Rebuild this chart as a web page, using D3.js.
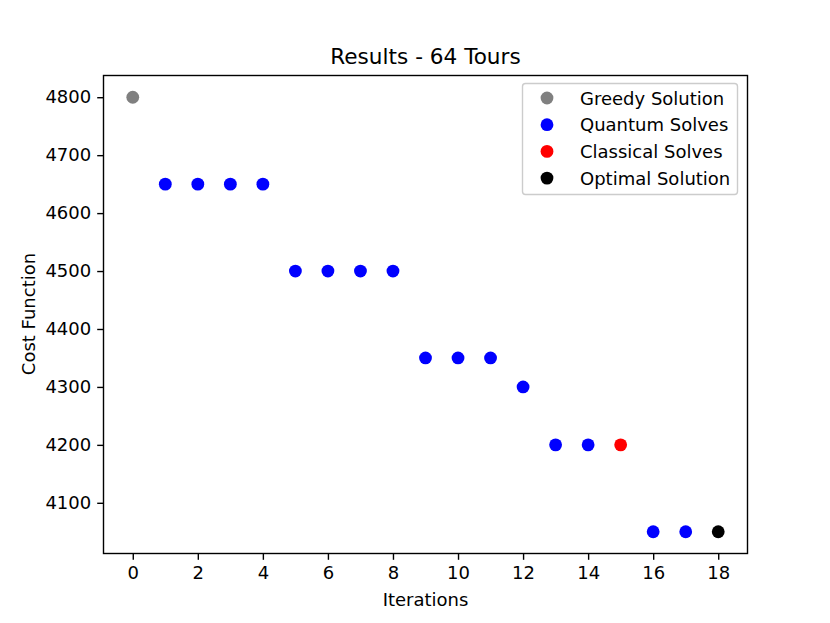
<!DOCTYPE html>
<html><head><meta charset="utf-8">
<script src="https://cdn.jsdelivr.net/npm/d3@7/dist/d3.min.js"></script>
<style>body{margin:0;background:#fff}svg{display:block;font-family:"DejaVu Sans",sans-serif}</style>
</head><body>
<svg id="c" width="830" height="623"></svg>
<script>
const greedyX=[0], greedyY=[4800];
const quantumX=[1,2,3,4,5,6,7,8,9,10,11,12,13,14,16,17];
const quantumY=[4650,4650,4650,4650,4500,4500,4500,4500,4350,4350,4350,4300,4200,4200,4050,4050];
const classicalX=[15], classicalY=[4200];
const optimalX=[18], optimalY=[4050];
const xTicks=[0,2,4,6,8,10,12,14,16,18];
const yTicks=[4100,4200,4300,4400,4500,4600,4700,4800];
const seriesNames=["Greedy Solution","Quantum Solves","Classical Solves","Optimal Solution"];
const seriesColors=["#808080","#0000ff","#ff0000","#000000"];

const svg=d3.select("#c");
const L=103.5,R=747.5,T=75.5,B=553.5;
const x=d3.scaleLinear().domain([-0.9,18.9]).range([L,R]);
const y=d3.scaleLinear().domain([4012.5,4837.5]).range([B,T]);

const series=[[greedyX,greedyY],[quantumX,quantumY],[classicalX,classicalY],[optimalX,optimalY]];
series.forEach((s,i)=>{
  const pts=s[0].map((v,j)=>[v,s[1][j]]);
  svg.append("g").selectAll("circle").data(pts).enter().append("circle")
    .attr("cx",d=>x(d[0])).attr("cy",d=>y(d[1])).attr("r",6.4).attr("fill",seriesColors[i]);
});

const xa=svg.append("g").attr("transform",`translate(0,${B})`)
  .call(d3.axisBottom(x).tickValues(xTicks).tickFormat(d3.format("d")).tickSize(6.3).tickPadding(6).tickSizeOuter(0));
const ya=svg.append("g").attr("transform",`translate(${L},0)`)
  .call(d3.axisLeft(y).tickValues(yTicks).tickFormat(d3.format("d")).tickSize(6.3).tickPadding(6).tickSizeOuter(0));
[xa,ya].forEach(a=>{a.select(".domain").remove();a.selectAll("line").attr("stroke","#000").attr("stroke-width",1.4);
  a.selectAll("text").attr("font-size",18).attr("font-family","DejaVu Sans").attr("fill","#000");});

svg.append("rect").attr("x",L).attr("y",T).attr("width",R-L).attr("height",B-T)
  .attr("fill","none").attr("stroke","#000").attr("stroke-width",1.4);

svg.append("text").attr("x",(L+R)/2).attr("y",64).attr("text-anchor","middle")
  .attr("font-size",21.6).text("Results - 64 Tours");
svg.append("text").attr("x",(L+R)/2).attr("y",606).attr("text-anchor","middle")
  .attr("font-size",18).text("Iterations");
svg.append("text").attr("transform","translate(35,314) rotate(-90)").attr("text-anchor","middle")
  .attr("font-size",18).text("Cost Function");

const lg=svg.append("g");
lg.append("rect").attr("x",522.5).attr("y",83.5).attr("width",215).attr("height",111).attr("rx",3)
  .attr("fill","#fff").attr("fill-opacity",0.8).attr("stroke","#cccccc").attr("stroke-width",1.4);
seriesNames.forEach((n,i)=>{
  const cy=98+i*26.7;
  lg.append("circle").attr("cx",547).attr("cy",cy).attr("r",6.4).attr("fill",seriesColors[i]);
  lg.append("text").attr("x",580).attr("y",cy+6.5).attr("font-size",18).text(n);
});
</script>
</body></html>
